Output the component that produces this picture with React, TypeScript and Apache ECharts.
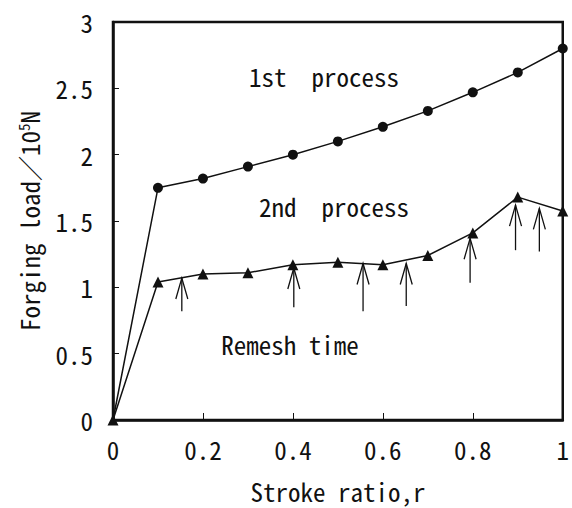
import React, { useEffect, useRef } from "react";
import * as echarts from "echarts";

const strokeRatio = [0, 0.1, 0.2, 0.3, 0.4, 0.5, 0.6, 0.7, 0.8, 0.9, 1.0];
const firstProcess = [0, 1.75, 1.82, 1.91, 2.0, 2.1, 2.21, 2.33, 2.47, 2.62, 2.8];
const secondProcess = [0, 1.04, 1.1, 1.11, 1.17, 1.19, 1.17, 1.24, 1.41, 1.68, 1.575];
const remeshX = [0.153, 0.402, 0.556, 0.652, 0.794, 0.895, 0.948];
const remeshTip = [1.07, 1.146, 1.18, 1.18, 1.37, 1.62, 1.595];
const remeshTail = [0.82, 0.85, 0.82, 0.86, 1.035, 1.28, 1.27];
const annotations = ["1st  process", "2nd  process", "Remesh time"];

const FONT = '"Noto Sans Mono CJK JP", "DejaVu Sans Mono", monospace';
const INK = "#111";

export default function App() {
  const ref = useRef<HTMLDivElement>(null);
  useEffect(() => {
    if (!ref.current) return;
    const chart = echarts.init(ref.current, undefined, { renderer: "svg" });
    const labelStyle = { fontFamily: FONT, fontSize: 25, fontWeight: 500, color: INK };
    chart.setOption({
      animation: false,
      backgroundColor: "#fff",
      grid: {
        left: 113,
        top: 22,
        right: 5,
        bottom: 81,
        show: true,
        borderColor: INK,
        borderWidth: 2.5,
        backgroundColor: "transparent",
      },
      xAxis: {
        type: "value",
        min: 0,
        max: 1,
        interval: 0.2,
        name: "Stroke ratio,r",
        nameLocation: "middle",
        nameGap: 58,
        nameTextStyle: { fontFamily: FONT, fontSize: 25, fontWeight: 500, color: INK },
        axisLine: { lineStyle: { color: INK, width: 2.5 } },
        axisTick: { inside: true, length: 7, lineStyle: { color: INK, width: 1 } },
        axisLabel: { ...labelStyle, margin: 16 },
        splitLine: { show: false },
      },
      yAxis: {
        type: "value",
        min: 0,
        max: 3,
        interval: 0.5,
        name: "{a|Forging load／10}{s|5}{a|N}",
        nameLocation: "middle",
        nameGap: 72,
        nameTextStyle: {
          color: INK,
          rich: {
            a: { fontFamily: FONT, fontSize: 25, fontWeight: 500, color: INK },
            s: { fontFamily: FONT, fontSize: 15, fontWeight: 500, color: INK, padding: [0, 0, 10, 0] },
          },
        },
        axisLine: { lineStyle: { color: INK, width: 2.5 } },
        axisTick: { inside: true, length: 6, lineStyle: { color: INK, width: 1 } },
        axisLabel: { ...labelStyle, margin: 20 },
        splitLine: { show: false },
      },
      series: [
        {
          name: "1st process",
          type: "line",
          data: strokeRatio.map((x, i) => ({
            value: [x, firstProcess[i]],
            symbolSize: i === 0 ? 0 : 10,
          })),
          symbol: "circle",
          lineStyle: { color: INK, width: 1.5 },
          itemStyle: { color: INK },
        },
        {
          name: "2nd process",
          type: "line",
          data: strokeRatio.map((x, i) => [x, secondProcess[i]]),
          symbol: "triangle",
          symbolSize: 11,
          lineStyle: { color: INK, width: 1.5 },
          itemStyle: { color: INK },
        },
        {
          name: "Remesh time",
          type: "custom",
          data: remeshX.map((x, i) => [x, remeshTip[i], remeshTail[i]]),
          renderItem: (params: any, api: any) => {
            const tip = api.coord([api.value(0), api.value(1)]);
            const tail = api.coord([api.value(0), api.value(2)]);
            const style = { stroke: INK, lineWidth: 1.3, fill: "none" };
            return {
              type: "group",
              children: [
                { type: "line", shape: { x1: tip[0], y1: tip[1], x2: tail[0], y2: tail[1] }, style },
                {
                  type: "polyline",
                  shape: { points: [[tip[0] - 6, tip[1] + 21], [tip[0], tip[1]], [tip[0] + 6, tip[1] + 21]] },
                  style,
                },
              ],
            };
          },
        },
      ],
      graphic: [
        { type: "text", x: 324, y: 76, style: { text: annotations[0], font: `500 25px ${FONT}`, fill: INK, textAlign: "center", textVerticalAlign: "middle" } },
        { type: "text", x: 334, y: 206, style: { text: annotations[1], font: `500 25px ${FONT}`, fill: INK, textAlign: "center", textVerticalAlign: "middle" } },
        { type: "text", x: 290, y: 344, style: { text: annotations[2], font: `500 25px ${FONT}`, fill: INK, textAlign: "center", textVerticalAlign: "middle" } },
      ],
    });
    return () => chart.dispose();
  }, []);
  return <div ref={ref} style={{ width: 572, height: 508, position: "absolute", left: 0, top: 0 }} />;
}
